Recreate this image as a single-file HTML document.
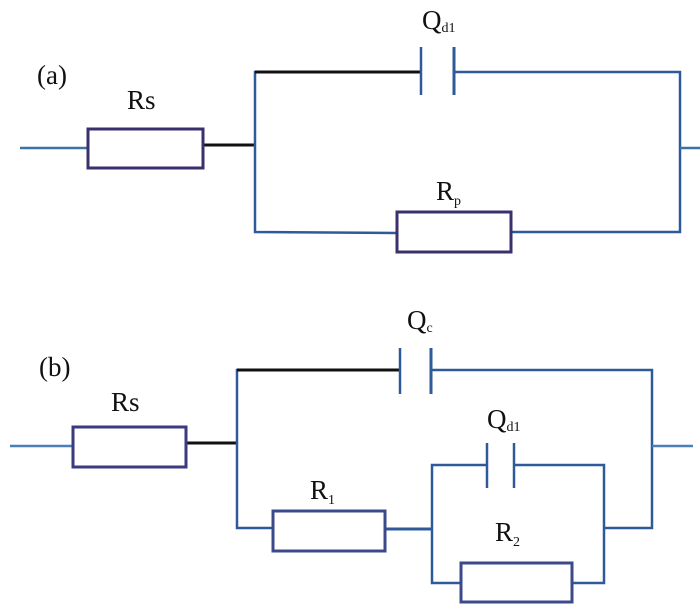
<!DOCTYPE html>
<html><head><meta charset="utf-8"><style>html,body{margin:0;padding:0;background:#fff}svg{display:block}text{font-family:"Liberation Serif",serif;fill:#111}</style></head>
<body>
<svg width="700" height="609" viewBox="0 0 700 609" xmlns="http://www.w3.org/2000/svg">
<g fill="none" stroke-width="2.5">
<line x1="20" y1="148" x2="87" y2="148" stroke="#3c72a8"/>
<line x1="204" y1="145" x2="256" y2="145" stroke="#111" stroke-width="3"/>
<polyline points="421,72 255,72 255,232 396,233" stroke="#2f5a9a"/>
<line x1="255" y1="72" x2="421" y2="72" stroke="#111" stroke-width="3"/>
<line x1="421" y1="47" x2="421" y2="95" stroke="#2f5a9a"/>
<line x1="454" y1="47" x2="454" y2="95" stroke="#2f5a9a" stroke-width="3"/>
<polyline points="454,72 680,72 680,232 511,232" stroke="#2f5a9a"/>
<line x1="680" y1="148" x2="700" y2="148" stroke="#3c72a8"/>
<rect x="88" y="129" width="115" height="39" stroke="#3b2f6e" stroke-width="3"/>
<rect x="397" y="212" width="114" height="40" stroke="#3b2f6e" stroke-width="3"/>
<line x1="10" y1="446" x2="72" y2="446" stroke="#4a7fb8"/>
<line x1="186" y1="443" x2="237" y2="443" stroke="#111" stroke-width="3"/>
<polyline points="400,370 237,370 237,528 273,528" stroke="#2f5a9a"/>
<line x1="237" y1="370" x2="400" y2="370" stroke="#111" stroke-width="3"/>
<line x1="400" y1="348" x2="400" y2="394" stroke="#2f5a9a"/>
<line x1="431" y1="348" x2="431" y2="394" stroke="#2f5a9a" stroke-width="3"/>
<polyline points="431,370 652,370 652,528 604,528" stroke="#2f5a9a"/>
<line x1="652" y1="446" x2="693" y2="446" stroke="#4a7fb8"/>
<line x1="385" y1="529" x2="432" y2="529" stroke="#2f5a9a" stroke-width="3"/>
<polyline points="487,465 432,465 432,583 461,583" stroke="#2f5a9a"/>
<line x1="487" y1="443" x2="487" y2="488" stroke="#2f5a9a"/>
<line x1="514" y1="443" x2="514" y2="488" stroke="#2f5a9a"/>
<polyline points="514,465 604,465 604,583 572,583" stroke="#2f5a9a"/>
<rect x="73" y="427" width="113" height="40" stroke="#3b3a7e" stroke-width="3"/>
<rect x="273" y="511" width="112" height="40" stroke="#3b4a8a" stroke-width="3"/>
<rect x="461" y="563" width="111" height="39" stroke="#3b4a8a" stroke-width="3"/>
</g>
<g font-size="27">
<text x="422" y="29">Q<tspan font-size="14" dy="3">d1</tspan></text>
<text x="37" y="84">(a)</text>
<text x="127" y="109">Rs</text>
<text x="436" y="200">R<tspan font-size="14" dy="5">p</tspan></text>
<text x="407" y="329">Q<tspan font-size="14" dy="3">c</tspan></text>
<text x="39" y="376">(b)</text>
<text x="111" y="411">Rs</text>
<text x="487" y="428">Q<tspan font-size="14" dy="3">d1</tspan></text>
<text x="310" y="499">R<tspan font-size="14" dy="5">1</tspan></text>
<text x="495" y="541">R<tspan font-size="14" dy="5">2</tspan></text>
</g>
</svg>
</body></html>
